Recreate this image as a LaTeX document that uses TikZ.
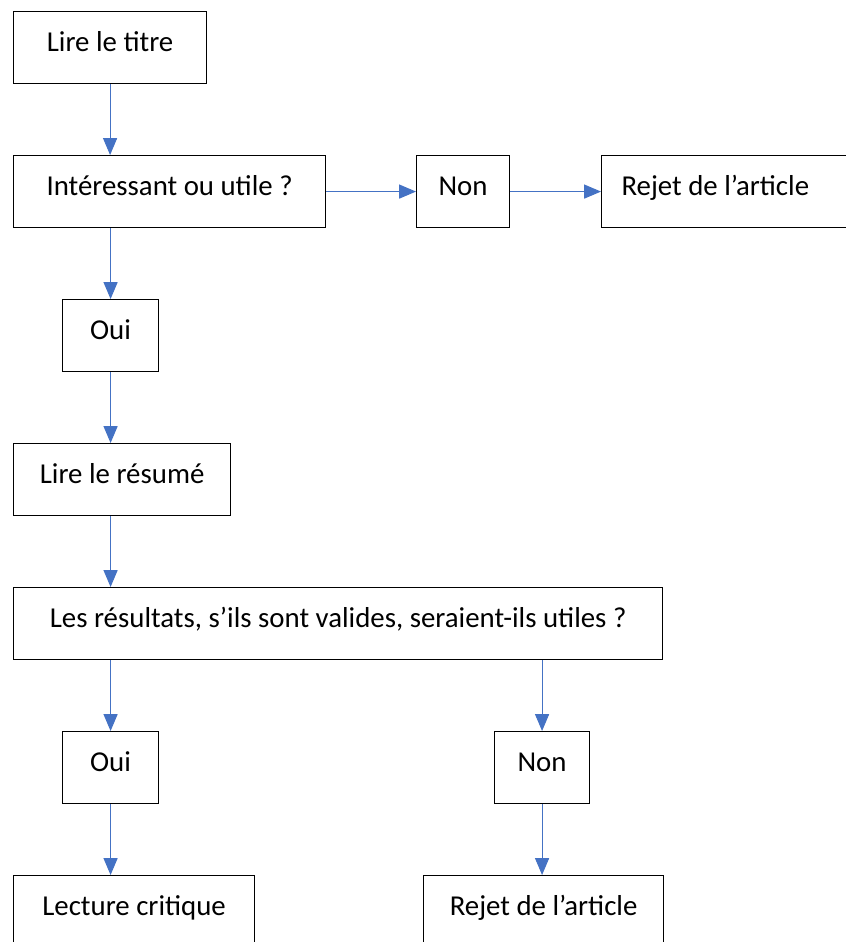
\documentclass[tikz,border=0pt]{standalone}
\usepackage{fontspec}
\setmainfont{Carlito}
\usetikzlibrary{arrows.meta}
\definecolor{flowblue}{HTML}{4472C4}

\begin{document}
\begin{tikzpicture}[x=0.025cm,y=-0.025cm,
  box/.style={draw=black,line width=0.8pt,anchor=north west,inner sep=0pt,
    minimum height=1.8cm,text height=1cm,text depth=0.8cm,
    font=\fontsize{20.5}{24}\selectfont},
  flow/.style={draw=flowblue,line width=0.7pt,-{Triangle[length=4.2mm,width=3.5mm]}}]
\useasboundingbox (0,0) rectangle (846,942);
\clip (0,0) rectangle (846,942);
\node [box,minimum width=4.825cm] (titre) at (13,11) {Lire le titre};
\node [box,minimum width=7.8cm] (interet) at (13,155) {Intéressant ou utile ?};
\node [box,minimum width=2.325cm] (nonA) at (416,155) {Non};
\node [box,inner xsep=0.5cm] (rejetA) at (601,155) {\makebox[5.5cm][l]{Rejet de l’article}};
\node [box,minimum width=2.4cm] (ouiA) at (62,299) {Oui};
\node [box,minimum width=5.425cm] (resume) at (13,443) {Lire le résumé};
\node [box,minimum width=16.225cm] (resultats) at (13,587) {Les résultats, s’ils sont valides, seraient-ils utiles ?};
\node [box,minimum width=2.4cm] (ouiB) at (62,731) {Oui};
\node [box,minimum width=2.375cm] (nonB) at (494,731) {Non};
\node [box,minimum width=6.025cm] (lecture) at (13,875) {Lecture critique};
\node [box,minimum width=6cm] (rejetB) at (423,875) {Rejet de l’article};
\draw [flow] (titre.south) -- (titre.south |- interet.north);
\draw [flow] (interet.east) -- (nonA.west);
\draw [flow] (nonA.east) -- (rejetA.west);
\draw [flow] (interet.south -| ouiA.north) -- (ouiA.north);
\draw [flow] (ouiA.south) -- (ouiA.south |- resume.north);
\draw [flow] (resume.south -| ouiA.south) -- (resultats.north -| ouiA.south);
\draw [flow] (resultats.south -| ouiB.north) -- (ouiB.north);
\draw [flow] (resultats.south -| nonB.north) -- (nonB.north);
\draw [flow] (ouiB.south) -- (ouiB.south |- lecture.north);
\draw [flow] (nonB.south) -- (nonB.south |- rejetB.north);
\end{tikzpicture}
\end{document}
